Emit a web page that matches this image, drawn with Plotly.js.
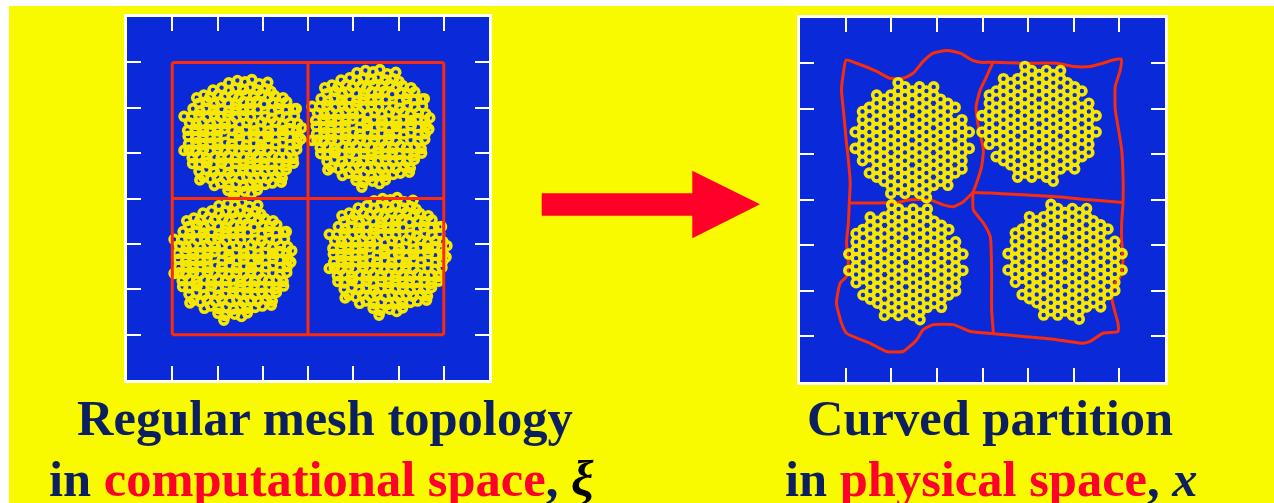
<!DOCTYPE html>
<html><head><meta charset="utf-8">
<script src="https://cdn.plot.ly/plotly-3.0.1.min.js"></script>
<style>html,body{margin:0;padding:0;background:#fff;}#chart{width:1274px;height:503px;}</style>
</head><body><div id="chart"></div>
<script>
// ---------- data ----------
// cluster centres, computational space (left) and physical space (right)
const leftCenterX = [-1.44, 1.39, -1.66, 1.77];
const leftCenterY = [1.36, 1.58, -1.35, -1.24];
const rightCenterX = [-1.54, 1.24, -1.68, 1.81];
const rightCenterY = [1.31, 1.67, -1.37, -1.36];

// particle offsets of a cluster in computational space (irregular cloud)
const cloudOffsets = [
[-0.31,1.19],[-0.12,1.24],[0.05,1.21],[0.2,1.26],[0.36,1.17],
[-0.66,1.03],[-0.47,1.08],[-0.3,1.02],[-0.17,1.07],[0.02,1.04],[0.15,1.09],[0.33,1.03],[0.5,1.06],[0.62,1.0],
[-0.86,0.92],[-0.73,0.87],[-0.55,0.93],[-0.41,0.88],[-0.22,0.91],[-0.09,0.86],[0.07,0.93],[0.25,0.89],[0.41,0.94],[0.57,0.87],[0.7,0.91],[0.89,0.86],
[-0.98,0.73],[-0.79,0.78],[-0.63,0.72],[-0.49,0.77],[-0.33,0.74],[-0.15,0.71],[0.01,0.77],[0.17,0.74],[0.3,0.78],[0.47,0.72],[0.66,0.76],[0.81,0.73],[0.97,0.77],
[-1.1,0.62],[-0.95,0.57],[-0.81,0.63],[-0.65,0.59],[-0.47,0.61],[-0.31,0.56],[-0.17,0.62],[0.02,0.58],[0.15,0.63],[0.33,0.6],[0.64,0.57],[0.79,0.62],[0.95,0.59],[1.13,0.61],
[-1.13,0.44],[-0.97,0.47],[-0.79,0.43],[-0.63,0.48],[-0.49,0.44],[-0.33,0.47],[-0.15,0.42],[0.01,0.46],[0.17,0.43],[0.49,0.45],[0.63,0.41],[0.81,0.47],[0.96,0.44],[1.14,0.46],
[-1.18,0.31],[-1.03,0.27],[-0.89,0.32],[-0.71,0.28],[-0.57,0.33],[-0.39,0.29],[-0.25,0.32],[-0.07,0.27],[0.09,0.31],[0.23,0.28],[0.41,0.33],[0.55,0.29],[0.73,0.32],[0.87,0.27],[1.05,0.31],[1.21,0.29],
[-1.22,0.14],[-1.05,0.17],[-0.87,0.12],[-0.73,0.16],[-0.55,0.13],[-0.41,0.18],[-0.23,0.14],[-0.09,0.11],[0.07,0.16],[0.25,0.13],[0.39,0.17],[0.57,0.12],[0.71,0.16],[0.89,0.14],[1.03,0.18],[1.19,0.13],
[-1.21,0.01],[-1.04,-0.03],[-0.88,0.02],[-0.72,-0.02],[-0.57,0.03],[-0.24,-0.01],[-0.08,0.03],[0.09,-0.02],[0.23,0.02],[0.41,-0.03],[0.56,0.01],[0.72,-0.02],[0.89,0.03],[1.04,-0.01],[1.22,0.02],
[-1.2,-0.16],[-1.03,-0.13],[-0.89,-0.18],[-0.71,-0.14],[-0.56,-0.17],[-0.39,-0.12],[-0.25,-0.16],[-0.07,-0.13],[0.08,-0.18],[0.24,-0.14],[0.4,-0.17],[0.57,-0.12],[0.73,-0.16],[0.88,-0.13],[1.05,-0.17],[1.2,-0.15],
[-1.19,-0.29],[-1.05,-0.33],[-0.87,-0.28],[-0.73,-0.32],[-0.55,-0.27],[-0.41,-0.31],[-0.23,-0.28],[-0.09,-0.33],[0.07,-0.29],[0.25,-0.32],[0.39,-0.27],[0.56,-0.31],[0.88,-0.29],[1.04,-0.32],[1.19,-0.28],
[-1.12,-0.46],[-0.97,-0.43],[-0.8,-0.48],[-0.63,-0.44],[-0.48,-0.47],[-0.33,-0.42],[-0.15,-0.46],[0.0,-0.44],[0.17,-0.48],[0.31,-0.43],[0.49,-0.47],[0.65,-0.42],[0.79,-0.46],[0.97,-0.44],[1.11,-0.48],
[-1.11,-0.59],[-0.97,-0.62],[-0.79,-0.57],[-0.65,-0.61],[-0.47,-0.58],[-0.33,-0.63],[-0.15,-0.59],[0.01,-0.61],[0.16,-0.57],[0.33,-0.62],[0.47,-0.58],[0.63,-0.61],[0.81,-0.59],[0.95,-0.63],[1.12,-0.58],
[-0.97,-0.76],[-0.81,-0.72],[-0.63,-0.77],[-0.49,-0.73],[-0.31,-0.78],[-0.17,-0.74],[0.01,-0.71],[0.15,-0.76],[0.33,-0.73],[0.48,-0.78],[0.65,-0.74],[0.79,-0.77],[0.96,-0.72],
[-0.87,-0.89],[-0.71,-0.93],[-0.57,-0.88],[-0.39,-0.92],[-0.25,-0.87],[-0.07,-0.91],[0.09,-0.88],[0.23,-0.93],[0.41,-0.89],[0.55,-0.92],[0.73,-0.87],[0.87,-0.91],
[-0.63,-1.07],[-0.49,-1.02],[-0.31,-1.08],[-0.15,-1.04],[0.01,-1.09],[0.17,-1.03],[0.31,-1.07],[0.49,-1.05],[0.65,-1.02],
[-0.33,-1.18],[-0.17,-1.23],[0.04,-1.2],[0.19,-1.25],[0.32,-1.17],
[-1.3,0.45],[1.28,-0.05],[0.85,-1.0],[-0.95,-0.95],[1.18,0.62],[0.55,1.2],[-1.02,0.86],[-0.2,-1.33],[1.3,0.2],[-1.3,-0.3]
];

// particle offsets of a cluster in physical space (hexagonal pattern with holes), by column
const hexColumnX = [-1.25,-1.09,-0.94,-0.78,-0.62,-0.47,-0.31,-0.16,0,0.16,0.31,0.47,0.62,0.78,0.94,1.09,1.25];
const hexColumnY = [
[-0.18,0.18],
[-0.45,-0.27,-0.09,0.09,0.27,0.45,0.63],
[-0.72,-0.36,-0.18,0.18,0.36,0.72],
[-0.81,-0.63,-0.45,-0.27,-0.09,0.09,0.27,0.45,0.63,0.81,0.99],
[-0.9,-0.72,-0.54,-0.36,-0.18,0,0.18,0.36,0.54,0.72,0.9],
[-1.17,-0.99,-0.63,-0.45,-0.09,0.09,0.45,0.63,0.99],
[-1.08,-0.9,-0.72,-0.54,-0.36,-0.18,0,0.18,0.36,0.54,0.72,0.9,1.08,1.26],
[-1.17,-0.99,-0.81,-0.63,-0.45,-0.27,-0.09,0.09,0.27,0.45,0.63,0.81,0.99,1.17],
[-1.08,-0.9,-0.72,-0.36,-0.18,0.18,0.36,0.72,0.9,1.08],
[-1.17,-0.99,-0.81,-0.63,-0.45,-0.27,-0.09,0.09,0.27,0.45,0.63,0.81,0.99,1.17],
[-1.26,-1.08,-0.9,-0.72,-0.54,-0.36,-0.18,0,0.18,0.36,0.54,0.72,0.9,1.08],
[-0.99,-0.63,-0.45,-0.09,0.09,0.45,0.63,0.99,1.17],
[-0.9,-0.72,-0.54,-0.36,-0.18,0,0.18,0.36,0.54,0.72,0.9],
[-0.99,-0.81,-0.63,-0.45,-0.27,-0.09,0.09,0.27,0.45,0.63,0.81],
[-0.72,-0.36,-0.18,0.18,0.36,0.72],
[-0.63,-0.45,-0.27,-0.09,0.09,0.27,0.45],
[-0.18,0.18]
];

// regular mesh in computational space
const meshLineX = [[-3,3],[-3,3],[-3,3],[-3,-3],[0,0],[3,3]];
const meshLineY = [[-3,-3],[0,0],[3,3],[-3,3],[-3,3],[-3,3]];

// curved partition in physical space
const outerX = [-2.99,-2.76,-2.32,-2.03,-1.74,-1.52,-1.30,-1.08,-0.78,-0.49,-0.23,-0.05,0.23,0.89,1.63,1.99,2.36,2.64,2.86,3.04,
 3.02,2.91,2.91,2.97,3.05,3.08,3.08,3.05,3.05,3.08,3.02,2.86,2.84,2.91,2.97,2.97,
 2.64,2.36,2.21,1.63,0.89,0.24,-0.27,-0.64,-1.08,-1.30,-1.44,-1.74,-2.10,-2.46,-2.98,
 -3.09,-3.20,-3.12,-2.98,-2.94,-2.98,-2.94,-2.92,-2.90,-2.94,-2.98,-3.05,-3.09,-3.05,-2.99];
const outerY = [3.07,3.0,2.82,2.67,2.67,2.78,3.04,3.22,3.28,3.22,3.07,3.02,3.02,3.0,3.0,2.93,2.93,3.0,3.07,3.09,
 2.85,2.49,1.98,1.61,1.10,0.51,-0.07,-0.51,-0.88,-1.32,-1.68,-1.90,-2.19,-2.49,-2.71,-2.89,
 -2.93,-3.11,-3.15,-3.07,-3.0,-2.94,-2.89,-2.74,-2.74,-2.85,-3.07,-3.33,-3.33,-3.15,-2.93,
 -2.71,-2.27,-1.83,-1.68,-1.39,-0.95,-0.51,-0.07,0.37,0.88,1.24,1.98,2.41,2.78,3.07];
const leftDividerX = [-2.92,-2.40,-1.88,-1.59,-1.15,-0.86,-0.64,-0.42,-0.21];
const leftDividerY = [-0.07,-0.07,-0.06,0.0,0.0,-0.11,-0.15,-0.04,0.16];
const topDividerX = [0.23,0.09,-0.05,-0.14,-0.09,0.02,-0.02,-0.13,-0.21];
const topDividerY = [3.02,2.71,2.41,2.05,1.61,1.10,0.73,0.37,0.16];
const rightDividerX = [-0.21,0.17,0.90,1.63,2.36,3.08];
const rightDividerY = [0.16,0.15,0.11,0.07,0.0,-0.06];
const bottomDividerX = [-0.21,-0.20,0.02,0.17,0.20,0.20,0.24];
const bottomDividerY = [0.16,-0.22,-0.51,-0.81,-1.68,-2.41,-2.94];

// ---------- styles ----------
const YELLOW_BG = '#F9F900', BLUE = '#0A2AD9', DOT = '#F7E800', RED_LINE = '#FA2C0A';
const NAVY = '#0C1F5E', RED_TXT = '#FF0028';

function joinSegments(xs, ys){
  const x=[], y=[];
  xs.forEach((seg,i)=>{ x.push(...seg, null); y.push(...ys[i], null); });
  return {x, y};
}
function clusterPoints(cx, cy, offs){
  const x=[], y=[];
  cx.forEach((c,i)=>{ offs.forEach(p=>{ x.push(c+p[0]); y.push(cy[i]+p[1]); }); });
  return {x, y};
}
const hexOffsets = [];
hexColumnX.forEach((xv,i)=>hexColumnY[i].forEach(yv=>hexOffsets.push([xv,yv])));

const marker = {symbol:'circle-open', size:8, color:DOT, line:{width:3.6, color:DOT}};
const mesh = joinSegments(meshLineX, meshLineY);
const leftPts = clusterPoints(leftCenterX, leftCenterY, cloudOffsets);
const rightPts = clusterPoints(rightCenterX, rightCenterY, hexOffsets);
const redLine = {color:RED_LINE, width:3, shape:'spline', smoothing:0.5};

const traces = [
  {x:leftPts.x, y:leftPts.y, mode:'markers', marker, xaxis:'x', yaxis:'y', hoverinfo:'skip'},
  {x:mesh.x, y:mesh.y, mode:'lines', line:{color:RED_LINE, width:3}, xaxis:'x', yaxis:'y', hoverinfo:'skip'},
  {x:outerX, y:outerY, mode:'lines', line:redLine, xaxis:'x2', yaxis:'y2', hoverinfo:'skip'},
  {x:leftDividerX, y:leftDividerY, mode:'lines', line:redLine, xaxis:'x2', yaxis:'y2', hoverinfo:'skip'},
  {x:topDividerX, y:topDividerY, mode:'lines', line:redLine, xaxis:'x2', yaxis:'y2', hoverinfo:'skip'},
  {x:rightDividerX, y:rightDividerY, mode:'lines', line:redLine, xaxis:'x2', yaxis:'y2', hoverinfo:'skip'},
  {x:bottomDividerX, y:bottomDividerY, mode:'lines', line:redLine, xaxis:'x2', yaxis:'y2', hoverinfo:'skip'},
  {x:rightPts.x, y:rightPts.y, mode:'markers', marker, xaxis:'x2', yaxis:'y2', hoverinfo:'skip'}
];

function ax(domain, anchor){
  return {domain, anchor, range:[-4,4], showgrid:false, zeroline:false, showline:true, mirror:'ticks',
    linecolor:'#FFFFFF', linewidth:3, ticks:'inside', ticklen:14, tickwidth:2, tickcolor:'#FFFFFF',
    tickvals:[-3,-2,-1,0,1,2,3], showticklabels:false, fixedrange:true};
}
const W=1274, H=503;
const px=v=>v/W, py=v=>1-v/H;
const font = {family:'"Liberation Serif", "Times New Roman", serif', size:50.5, color:NAVY};
const layout = {
  width:W, height:H, margin:{l:0,r:0,t:0,b:0}, showlegend:false,
  paper_bgcolor:YELLOW_BG, plot_bgcolor:BLUE,
  xaxis:ax([px(127),px(489)],'y'), yaxis:ax([py(380),py(17)],'x'),
  xaxis2:ax([px(800),px(1165)],'y2'), yaxis2:ax([py(382),py(17.7)],'x2'),
  shapes:[
    {type:'rect', xref:'paper', yref:'paper', x0:0, x1:px(9), y0:0, y1:1, fillcolor:'#FFFFFF', line:{width:0}, layer:'above'},
    {type:'rect', xref:'paper', yref:'paper', x0:0, x1:1, y0:py(6), y1:1, fillcolor:'#FFFFFF', line:{width:0}, layer:'above'},
    {type:'path', xref:'paper', yref:'paper', fillcolor:RED_TXT, line:{width:0},
     path:`M ${px(541.7)},${py(193.3)} L ${px(692.3)},${py(193.3)} L ${px(692.3)},${py(170.7)} L ${px(760)},${py(204.3)} L ${px(692.3)},${py(238.3)} L ${px(692.3)},${py(215.7)} L ${px(541.7)},${py(215.7)} Z`}
  ],
  annotations:[
    {text:'<b>Regular mesh topology</b>', x:px(325), y:py(418), xref:'paper', yref:'paper', xanchor:'center', yanchor:'middle', showarrow:false, font},
    {text:`<b>in <span style="color:${RED_TXT}">computational space</span>, <i><span style="color:#000000">ξ</span></i></b>`, x:px(321), y:py(479), xref:'paper', yref:'paper', xanchor:'center', yanchor:'middle', showarrow:false, font},
    {text:'<b>Curved partition</b>', x:px(990), y:py(418), xref:'paper', yref:'paper', xanchor:'center', yanchor:'middle', showarrow:false, font},
    {text:`<b>in <span style="color:${RED_TXT}">physical space</span>, <i>x</i></b>`, x:px(991), y:py(479), xref:'paper', yref:'paper', xanchor:'center', yanchor:'middle', showarrow:false, font}
  ]
};
Plotly.newPlot('chart', traces, layout, {displayModeBar:false, staticPlot:true});
</script>
</body></html>
